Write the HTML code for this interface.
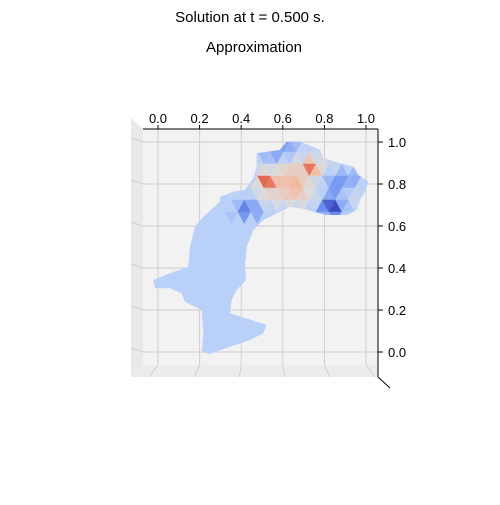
<!DOCTYPE html>
<html><head><meta charset="utf-8"><style>
body{margin:0;background:#fff;font-family:"Liberation Sans",sans-serif}
svg text{font-family:"Liberation Sans",sans-serif}
</style></head><body>
<svg id="s" width="500" height="500" viewBox="0 0 500 500">
<text x="250" y="22" text-anchor="middle" font-size="15">Solution at t = 0.500 s.</text>
<text x="254" y="52" text-anchor="middle" font-size="15">Approximation</text>
<g>
<polygon points="131,118 143,129 143,365 131,377" fill="#e9e9e9"/>
<rect x="143" y="129" width="235" height="236" fill="#f2f2f2"/>
<polygon points="131,377 143,365 378,365 378,377" fill="#ececec"/>
</g>
<g id="grid"></g>
<defs><clipPath id="cp"><polygon id="shapeclip"/></clipPath></defs>
<polygon id="shape" fill="#b9d0f9"/>
<g id="mesh" clip-path="url(#cp)"></g>
<g id="axes"></g>
</svg>
<script>
const xTicks=[0.0,0.2,0.4,0.6,0.8,1.0];
const yTicks=[0.0,0.2,0.4,0.6,0.8,1.0];
const xLabels=["0.0","0.2","0.4","0.6","0.8","1.0"];
const yLabels=["0.0","0.2","0.4","0.6","0.8","1.0"];
const X=v=>158+v*208, Y=v=>352-v*210;
const NS="http://www.w3.org/2000/svg";
function mk(t,a,p){const e=document.createElementNS(NS,t);for(const k in a)e.setAttribute(k,a[k]);p.appendChild(e);return e;}
const g=document.getElementById('grid'),ax=document.getElementById('axes');
xTicks.forEach((v,i)=>{
 const l=mk('line',{x1:X(v),y1:129,x2:X(v),y2:365,stroke:'#cfcfcf','stroke-width':1},g);
 
 mk('line',{x1:X(v),y1:365,x2:X(v)-(X(v)<250?9:-9)*(Math.abs(X(v)-262)/104),y2:377,stroke:'#cfcfcf'},g);
 mk('line',{x1:X(v),y1:129,x2:X(v),y2:125,stroke:'#000'},ax);
 const t=mk('text',{x:X(v),y:123,'text-anchor':'middle','font-size':13},ax);t.textContent=xLabels[i];
 
});
yTicks.forEach((v,i)=>{
 const l=mk('line',{x1:143,y1:Y(v),x2:378,y2:Y(v),stroke:'#cfcfcf'},g);
 
 mk('line',{x1:131,y1:Y(v)-4,x2:143,y2:Y(v),stroke:'#cfcfcf'},g);
 mk('line',{x1:378,y1:Y(v),x2:383,y2:Y(v),stroke:'#000'},ax);
 const t=mk('text',{x:388,y:Y(v)+5,'font-size':13},ax);t.textContent=yLabels[i];
 
});
mk('line',{x1:143,y1:129,x2:378,y2:129,stroke:'#000'},ax);
mk('line',{x1:378,y1:129,x2:378,y2:377,stroke:'#000'},ax);
mk('line',{x1:378,y1:377,x2:390,y2:388,stroke:'#000'},ax);
const zp=[[410,160],[480,150],[500,125],[540,125],[600,150],[610,175],[660,190],[700,200],[715,225],[745,245],[735,275],[720,300],[710,330],[680,345],[620,345],[580,335],[545,325],[510,320],[470,340],[430,360],[400,390],[380,440],[375,500],[378,540],[350,570],[335,600],[330,640],[440,675],[430,700],[390,720],[330,740],[270,762],[245,755],[250,700],[245,630],[195,605],[185,580],[150,565],[105,565],[100,540],[150,520],[205,500],[210,440],[225,380],[250,350],[300,305],[300,290],[340,275],[375,270],[400,235],[410,200]];
const pts=zp.map(p=>(120+p[0]/3).toFixed(1)+','+(100+p[1]/3).toFixed(1)).join(' ');
document.getElementById('shape').setAttribute('points',pts);
document.getElementById('shapeclip').setAttribute('points',pts);
const hotX=[290,267,313,262,300,332,335,350,248,285,270];
const hotY=[180,180,167,195,190,207,186,178,208,150,158];
const hotA=[0.55,1.0,0.85,0.2,0.15,-0.8,-0.35,-0.25,-0.45,-0.35,-0.25];
const hotW=[450,60,60,150,150,120,100,120,200,200,150];
const stops=[[-1,[59,76,192]],[-0.66,[110,144,242]],[-0.33,[185,208,249]],[0,[221,220,220]],[0.33,[244,186,160]],[0.66,[232,120,93]],[1,[180,4,38]]];
function col(v){v=Math.max(-1,Math.min(1,v));
 for(let i=0;i<stops.length-1;i++){const a=stops[i],b=stops[i+1];if(v<=b[0]){const t=(v-a[0])/(b[0]-a[0]);
  return 'rgb('+a[1].map((x,j)=>Math.round(x+(b[1][j]-x)*t)).join(',')+')';}}
 return 'rgb(180,4,38)';}
function val(x,y){let s=-0.25;hotX.forEach((hx,i)=>{const d=(x-hx)**2+(y-hotY[i])**2;s+=hotA[i]*Math.exp(-d/hotW[i]);});return s;}
const mesh=document.getElementById('mesh');const h=12,w=13;
for(let r=0;r<10;r++)for(let c=0;c<14;c++){
 const x0=225+c*w+(r%2)*w/2,y0=140+r*h;
 const tris=[[[x0,y0],[x0+w,y0],[x0+w/2,y0+h]],[[x0+w,y0],[x0+w/2,y0+h],[x0+w*1.5,y0+h]]];
 tris.forEach((t,k)=>{const cx=(t[0][0]+t[1][0]+t[2][0])/3,cy=(t[0][1]+t[1][1]+t[2][1])/3;
  let v=val(cx,cy)+(((r*7+c*3+k)%3)-1)*0.06;if(cy>218&&cx<265)v=-0.33;
  const f=col(v);
  mk('polygon',{points:t.map(p=>p.join(',')).join(' '),fill:f,stroke:f,'stroke-width':0.5},mesh);});
}
</script>
</body></html>
